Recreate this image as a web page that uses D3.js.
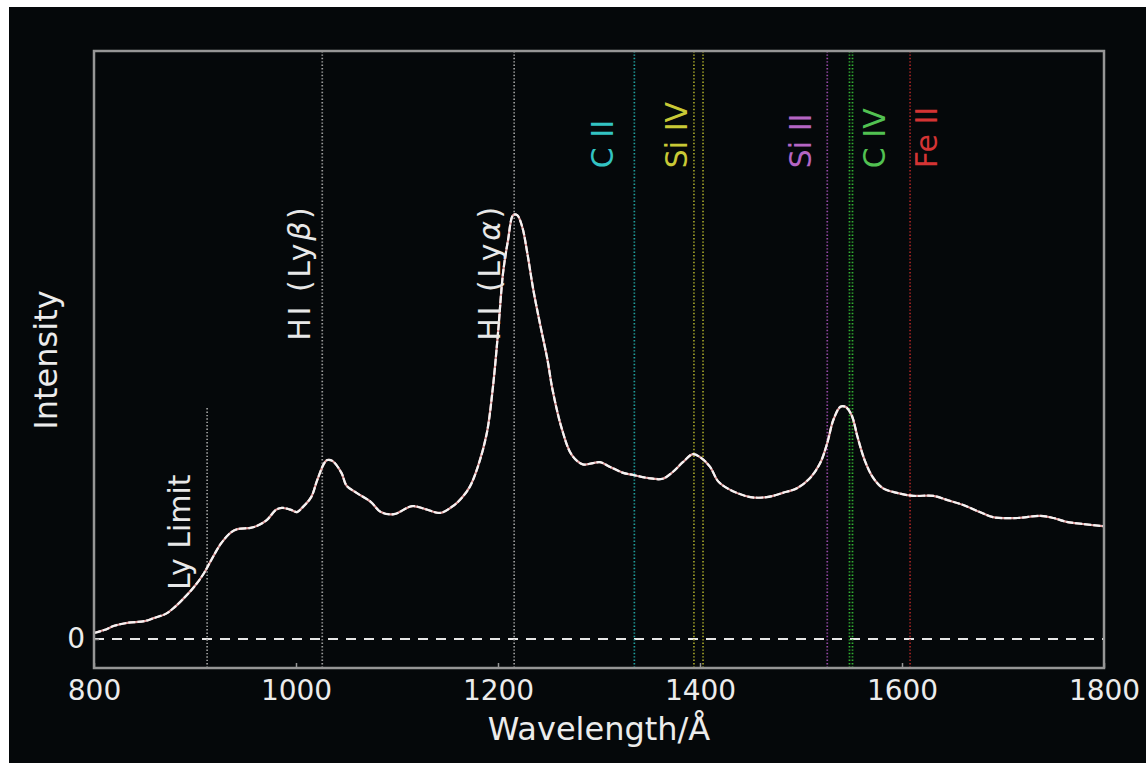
<!DOCTYPE html>
<html>
<head>
<meta charset="utf-8">
<script src="https://cdn.jsdelivr.net/npm/d3@7"></script>
<style>
  body { margin: 0; background: #fff; }
  text { font-family: "DejaVu Sans", sans-serif; }
</style>
</head>
<body>
<svg id="chart" width="1146" height="763"></svg>
<script>
// spectrum (wavelength in Angstrom, relative intensity)
const wavelengths = [800, 810, 820, 833, 850, 859, 871, 879, 889, 899, 909, 916, 926, 936, 942, 955, 961, 971, 980, 986,
  995, 1001, 1006, 1015, 1021, 1028, 1031, 1036, 1045, 1050, 1060, 1074, 1084, 1097, 1115, 1128, 1143, 1157, 1164, 1172,
  1180, 1189, 1195, 1200, 1205, 1210, 1215, 1219, 1224, 1229, 1235, 1242, 1249, 1254, 1263, 1273, 1284, 1294, 1301, 1311,
  1324, 1334, 1348, 1363, 1373, 1383, 1393, 1400, 1410, 1418, 1430, 1450, 1466, 1482, 1496, 1509, 1519, 1526, 1532, 1539,
  1544, 1550, 1556, 1563, 1571, 1581, 1595, 1611, 1631, 1645, 1660, 1677, 1690, 1714, 1737, 1750, 1763, 1779, 1799];
const intensity = [0.014, 0.021, 0.031, 0.038, 0.042, 0.049, 0.059, 0.073, 0.096, 0.122, 0.155, 0.185, 0.225, 0.251, 0.258, 0.261, 0.265, 0.279, 0.303, 0.308,
  0.303, 0.298, 0.308, 0.333, 0.373, 0.413, 0.420, 0.418, 0.390, 0.360, 0.343, 0.322, 0.298, 0.293, 0.312, 0.305, 0.296, 0.315, 0.331, 0.357,
  0.404, 0.484, 0.592, 0.718, 0.859, 0.937, 0.995, 0.995, 0.967, 0.906, 0.819, 0.735, 0.655, 0.585, 0.495, 0.432, 0.410, 0.413, 0.415, 0.404,
  0.390, 0.385, 0.378, 0.376, 0.392, 0.415, 0.434, 0.427, 0.404, 0.370, 0.350, 0.333, 0.333, 0.343, 0.354, 0.378, 0.413, 0.460, 0.514, 0.545,
  0.545, 0.526, 0.474, 0.420, 0.380, 0.354, 0.343, 0.336, 0.336, 0.326, 0.315, 0.298, 0.286, 0.284, 0.289, 0.284, 0.275, 0.270, 0.265];

// emission lines: name, rest wavelengths, where the label sits, label colour, line colour
const lineNames = ['Ly Limit', 'HI (Ly\u03b2)', 'HI (Ly\u03b1)', 'C II', 'Si IV', 'Si II', 'C IV', 'Fe II'];
const lineWaves = [[912], [1026], [1216], [1335], [1394, 1403], [1526], [1548, 1551], [1608]];
const lineTops = [0.542, null, null, null, null, null, null, null];
const labelWaves = [895, 1014, 1202, 1314, 1387, 1510, 1583, 1635];
const labelY = [0.115, 0.70, 0.70, 1.105, 1.105, 1.105, 1.105, 1.105];
const labelColors = ['#e8e8e8', '#e8e8e8', '#e8e8e8', '#33c3c3', '#c9c936', '#b565c4', '#52c152', '#d43434'];
const markColors = ['#9c9c9c', '#9c9c9c', '#9c9c9c', '#1e9e9e', '#a0a028', '#9448a4', '#32b032', '#a42424'];

const xTicks = [800, 1000, 1200, 1400, 1600, 1800];
const yTicks = [0];

const svg = d3.select('#chart');
const margin = { top: 51, right: 42, bottom: 95, left: 94 };
const width = 1146, height = 763;
const chartWidth = width - margin.left - margin.right;
const chartHeight = height - margin.top - margin.bottom;

svg.append('rect')
    .attr('x', 9).attr('y', 7)
    .attr('width', width - 9).attr('height', height - 7)
    .attr('fill', '#05080a');

const g = svg.append('g')
    .attr('transform', `translate(${margin.left},${margin.top})`);

const x = d3.scaleLinear().domain([800, 1800]).range([0, chartWidth]);
const y = d3.scaleLinear().domain([-0.068, 1.380]).range([chartHeight, 0]);

// zero line
g.append('line')
    .attr('x1', 0).attr('x2', chartWidth)
    .attr('y1', y(0)).attr('y2', y(0))
    .attr('stroke', '#e6e6e6')
    .attr('stroke-width', 2)
    .attr('stroke-dasharray', '10,8');

// dotted marker lines
lineWaves.forEach((ws, i) => {
  ws.forEach(w => {
    g.append('line')
        .attr('x1', x(w)).attr('x2', x(w))
        .attr('y1', lineTops[i] === null ? 0 : y(lineTops[i]))
        .attr('y2', chartHeight)
        .attr('stroke', markColors[i])
        .attr('stroke-width', 1.7)
        .attr('stroke-dasharray', '1.4,2');
  });
});

// spectrum
const pts = wavelengths.map((w, i) => [w, intensity[i]]);
const line = d3.line()
    .x(d => x(d[0]))
    .y(d => y(d[1]))
    .curve(d3.curveCatmullRom.alpha(0.5));

g.append('path')
    .datum(pts)
    .attr('fill', 'none')
    .attr('stroke', '#e7a3a3')
    .attr('stroke-width', 2.2)
    .attr('d', line);
g.append('path')
    .datum(pts)
    .attr('fill', 'none')
    .attr('stroke', '#f4f4f4')
    .attr('stroke-width', 2.2)
    .attr('stroke-dasharray', '7,2')
    .attr('d', line);

// line labels
lineNames.forEach((name, i) => {
  const t = g.append('text')
      .attr('transform', `translate(${x(labelWaves[i])},${y(labelY[i])}) rotate(-90)`)
      .attr('fill', labelColors[i])
      .attr('font-size', 30);
  const m = name.match(/^(.*Ly)([\u03b1\u03b2])(\))$/);
  if (m) {
    t.attr('letter-spacing', 2.6);
    t.append('tspan').text(m[1]);
    t.append('tspan').attr('font-style', 'italic').text(m[2]);
    t.append('tspan').text(m[3]);
  } else {
    t.text(name);
  }
});

// frame
g.append('rect')
    .attr('width', chartWidth).attr('height', chartHeight)
    .attr('fill', 'none')
    .attr('stroke', '#969696')
    .attr('stroke-width', 2.5);

// axes
const xAxis = g.append('g')
    .attr('transform', `translate(0,${chartHeight})`)
    .call(d3.axisBottom(x).tickValues(xTicks).tickFormat(d3.format('d')).tickSizeInner(-5).tickSizeOuter(0).tickPadding(12));
const yAxis = g.append('g')
    .call(d3.axisLeft(y).tickValues(yTicks).tickFormat(d3.format('d')).tickSizeInner(-5).tickSizeOuter(0).tickPadding(9));

[xAxis, yAxis].forEach(a => {
  a.select('.domain').remove();
  a.selectAll('line').attr('stroke', '#969696').attr('stroke-width', 1.5);
  a.selectAll('text')
      .attr('fill', '#ececec')
      .attr('font-size', 28)
      .attr('font-family', '"DejaVu Sans", sans-serif');
});

// axis titles
svg.append('text')
    .attr('x', margin.left + chartWidth / 2)
    .attr('y', 740)
    .attr('text-anchor', 'middle')
    .attr('fill', '#ececec')
    .attr('font-size', 32)
    .text('Wavelength/\u00c5');

svg.append('text')
    .attr('transform', `translate(57,${margin.top + 309}) rotate(-90)`)
    .attr('text-anchor', 'middle')
    .attr('fill', '#ececec')
    .attr('font-size', 32)
    .text('Intensity');
</script>
</body>
</html>
